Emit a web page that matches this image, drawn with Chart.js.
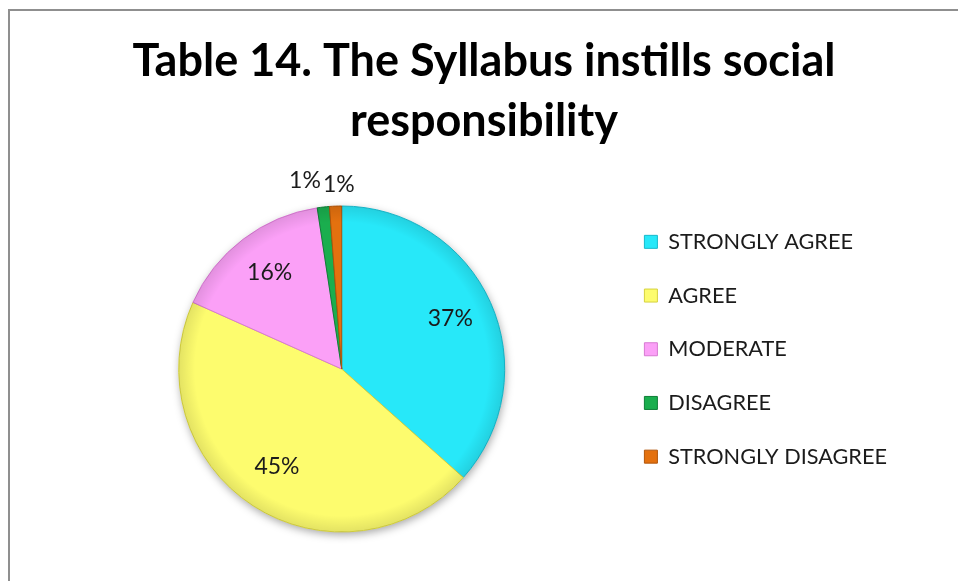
<!DOCTYPE html>
<html lang="en">
<head>
  <meta charset="UTF-8" />
  <title>Table 14. The Syllabus instills social responsibility</title>
  <script src="https://cdn.jsdelivr.net/npm/chart.js"></script>
  <style>
    html, body { margin: 0; padding: 0; background: #fff; overflow: hidden; }
    body { width: 958px; height: 581px; position: relative; }
    #frame { position: absolute; left: 8px; top: 9px; width: 970px; height: 590px; border: 2px solid #8f8f8f; }
    #chart { position: absolute; left: 0; top: 0; }
  </style>
</head>
<body>
  <div id="frame"></div>
  <canvas id="chart" width="958" height="581"></canvas>

  <script>
    // values (share of respondents, %)
    const categories = ['STRONGLY AGREE', 'AGREE', 'MODERATE', 'DISAGREE', 'STRONGLY DISAGREE']
    const shares = [36.6, 45.1, 15.9, 1.2, 1.2]
    const titleLines = ['Table 14. The Syllabus instills social', 'responsibility']

    const fills = ['#27e8f9', '#fdfc6e', '#fba0f7', '#1aae4e', '#e4710f']
    const edges = ['#17b9cc', '#d6d23e', '#d77ad2', '#0f7f37', '#b2550a']

    // soft drop shadow under the pie
    const pieShadow = {
      id: 'pieShadow',
      beforeDatasetsDraw(chart) {
        const arc = chart.getDatasetMeta(0).data[0]
        if (!arc) return
        const ctx = chart.ctx
        ctx.save()
        ctx.shadowColor = 'rgba(0,0,0,0.35)'
        ctx.shadowBlur = 8
        ctx.shadowOffsetX = 1
        ctx.shadowOffsetY = 3
        ctx.fillStyle = '#fff'
        ctx.beginPath()
        ctx.arc(arc.x, arc.y, arc.outerRadius, 0, Math.PI * 2)
        ctx.fill()
        ctx.restore()
      }
    }

    // light bevel at the rim + percentage labels
    const pctLabels = {
      id: 'pctLabels',
      afterDatasetsDraw(chart) {
        const ctx = chart.ctx
        const meta = chart.getDatasetMeta(0)
        const first = meta.data[0]
        const total = shares.reduce((a, b) => a + b, 0)

        ctx.save()
        const g = ctx.createRadialGradient(first.x, first.y, first.outerRadius * 0.9, first.x, first.y, first.outerRadius)
        g.addColorStop(0, 'rgba(0,0,0,0)')
        g.addColorStop(1, 'rgba(0,0,0,0.10)')
        ctx.fillStyle = g
        ctx.beginPath()
        ctx.arc(first.x, first.y, first.outerRadius, 0, Math.PI * 2)
        ctx.fill()

        ctx.font = '23px Lato'
        ctx.fillStyle = '#1b1b1b'
        ctx.textAlign = 'center'
        ctx.textBaseline = 'middle'
        let small = 0
        meta.data.forEach((arc, i) => {
          const pct = shares[i] / total * 100
          const mid = (arc.startAngle + arc.endAngle) / 2
          let dist = arc.outerRadius * 0.73
          let dx = 0, dy = 0
          if (pct < 5) {
            dist = arc.outerRadius + 21
            dx = small === 0 ? -16 : 4
            dy = small === 0 ? -4 : 1
            small++
          }
          ctx.fillText(Math.round(pct) + '%', arc.x + Math.cos(mid) * dist + dx, arc.y + Math.sin(mid) * dist + dy - 2)
        })
        ctx.restore()
      }
    }

    new Chart(document.getElementById('chart'), {
      type: 'pie',
      data: {
        labels: categories,
        datasets: [{
          data: shares,
          backgroundColor: fills,
          borderColor: edges,
          borderWidth: 1,
          radius: 163
        }]
      },
      options: {
        responsive: false,
        animation: false,
        events: [],
        layout: { padding: { left: 71, right: 61, top: 0, bottom: 42 } },
        plugins: {
          title: {
            display: true,
            text: titleLines,
            color: '#000',
            font: { family: 'Lato', size: 45, weight: 'bold', lineHeight: 60 / 45 },
            padding: { top: 31, bottom: 48 }
          },
          legend: {
            position: 'right',
            align: 'start',
            fullSize: false,
            labels: {
              color: '#1b1b1b',
              font: { family: 'Lato', size: 21.7 },
              boxWidth: 13,
              boxHeight: 13,
              padding: 32
            }
          },
          tooltip: { enabled: false }
        }
      },
      plugins: [pieShadow, pctLabels]
    })
  </script>
</body>
</html>
